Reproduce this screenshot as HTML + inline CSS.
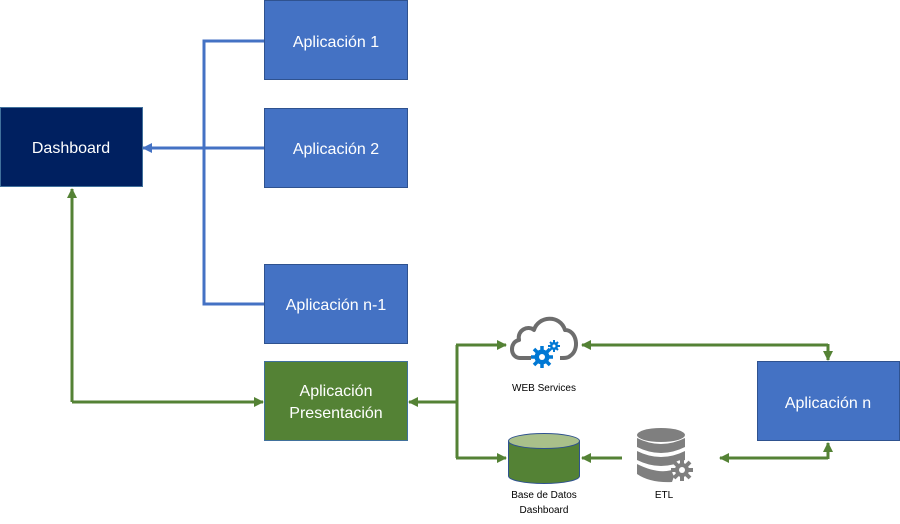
<!DOCTYPE html>
<html><head><meta charset="utf-8"><style>
html,body{margin:0;padding:0;background:#fff;}
svg{display:block;font-family:"Liberation Sans",sans-serif;}
</style></head><body>
<svg width="900" height="524" viewBox="0 0 900 524" xmlns="http://www.w3.org/2000/svg">
<defs>
<marker id="ab" markerWidth="10" markerHeight="10" refX="9" refY="5" orient="auto" markerUnits="userSpaceOnUse"><path d="M0,0 L10,5 L0,10 Z" fill="#4472C4"/></marker>
<marker id="ag" markerWidth="10" markerHeight="10" refX="9" refY="5" orient="auto" markerUnits="userSpaceOnUse"><path d="M0,0 L10,5 L0,10 Z" fill="#548235"/></marker>
</defs>
<g stroke="#4472C4" stroke-width="3" fill="none">
<polyline points="264,41 204,41 204,304 264,304"/>
<line x1="264" y1="148" x2="143" y2="148" marker-end="url(#ab)"/>
</g>
<rect x="0.5" y="107.5" width="142" height="79" fill="#002060" stroke="#41719C"/>
<text x="71" y="153" fill="#fff" font-size="16" text-anchor="middle">Dashboard</text>
<g fill="#4472C4" stroke="#2F528F">
<rect x="264.5" y="0.5" width="143" height="79"/>
<rect x="264.5" y="108.5" width="143" height="79"/>
<rect x="264.5" y="264.5" width="143" height="79"/>
<rect x="757.5" y="361.5" width="142" height="79"/>
</g>
<rect x="264.5" y="361.5" width="143" height="79" fill="#548235" stroke="#41719C"/>
<g fill="#fff" font-size="16" text-anchor="middle">
<text x="336" y="47">Aplicación 1</text>
<text x="336" y="154">Aplicación 2</text>
<text x="336" y="310">Aplicación n-1</text>
<text x="336" y="396">Aplicación</text>
<text x="336" y="418">Presentación</text>
<text x="828" y="408">Aplicación n</text>
</g>
<g stroke="#548235" stroke-width="3" fill="none">
<line x1="72" y1="402" x2="72" y2="189" marker-end="url(#ag)"/>
<line x1="72" y1="402" x2="263" y2="402" marker-end="url(#ag)"/>
<line x1="457" y1="402" x2="409" y2="402" marker-end="url(#ag)"/>
<polyline points="457,345 457,458"/>
<line x1="456" y1="345" x2="506" y2="345" marker-end="url(#ag)"/>
<line x1="456" y1="458" x2="506" y2="458" marker-end="url(#ag)"/>
<line x1="828" y1="345" x2="582" y2="345" marker-end="url(#ag)"/>
<line x1="828" y1="344" x2="828" y2="360" marker-end="url(#ag)"/>
<line x1="622" y1="458" x2="582" y2="458" marker-end="url(#ag)"/>
<line x1="828" y1="458" x2="720" y2="458" marker-end="url(#ag)"/>
<line x1="828" y1="459" x2="828" y2="443" marker-end="url(#ag)"/>
</g>
<path d="M531,358 L520,358 C510,358 509,342 519,340 C517,330 528,325 534,330 C538,316 560,314 565,330 C577,330 580,350 570,356 C568,358 565,358 560,358" fill="none" stroke="#6d6d6d" stroke-width="4" stroke-linejoin="round"/>
<g fill="#0078D4">
<circle cx="542" cy="357" r="7.5"/>
<g stroke="#0078D4" stroke-width="3.5">
<line x1="542" y1="346" x2="542" y2="368"/><line x1="531" y1="357" x2="553" y2="357"/>
<line x1="534" y1="349" x2="550" y2="365"/><line x1="550" y1="349" x2="534" y2="365"/>
</g>
<circle cx="542" cy="357" r="3" fill="#fff"/>
<circle cx="554" cy="346" r="4"/>
<g stroke="#0078D4" stroke-width="2"><line x1="554" y1="340" x2="554" y2="352"/><line x1="548" y1="346" x2="560" y2="346"/><line x1="550" y1="342" x2="558" y2="350"/><line x1="558" y1="342" x2="550" y2="350"/></g>
<circle cx="554" cy="346" r="1.5" fill="#fff"/>
</g>
<text x="544" y="391" font-size="10" text-anchor="middle" fill="#000">WEB Services</text>
<path d="M508.5,441 L508.5,476 A35.5,7.5 0 0 0 579.5,476 L579.5,441" fill="#548235" stroke="#2F528F"/>
<ellipse cx="544" cy="441" rx="35.5" ry="7.5" fill="#A9C08A" stroke="#2F528F"/>
<text x="544" y="498" font-size="10" text-anchor="middle">Base de Datos</text>
<text x="544" y="513" font-size="10" text-anchor="middle">Dashboard</text>
<g fill="#7f7f7f">
<ellipse cx="661" cy="435" rx="24" ry="7"/>
<path d="M637,438 Q661,450 685,438 L685,447 Q661,459 637,447 Z"/>
<path d="M637,451 Q661,463 685,451 L685,460 Q661,472 637,460 Z"/>
<path d="M637,464 Q661,476 677,468 L672,482 Q650,483 637,474 Z"/>
<circle cx="682" cy="470" r="10" fill="#fff"/>
<circle cx="682" cy="470" r="7"/>
<g stroke="#7f7f7f" stroke-width="4"><line x1="682" y1="459" x2="682" y2="481"/><line x1="671" y1="470" x2="693" y2="470"/><line x1="674" y1="462" x2="690" y2="478"/><line x1="690" y1="462" x2="674" y2="478"/></g>
<circle cx="682" cy="470" r="3" fill="#fff"/>
</g>
<text x="664" y="498" font-size="10" text-anchor="middle">ETL</text>
</svg>
</body></html>
